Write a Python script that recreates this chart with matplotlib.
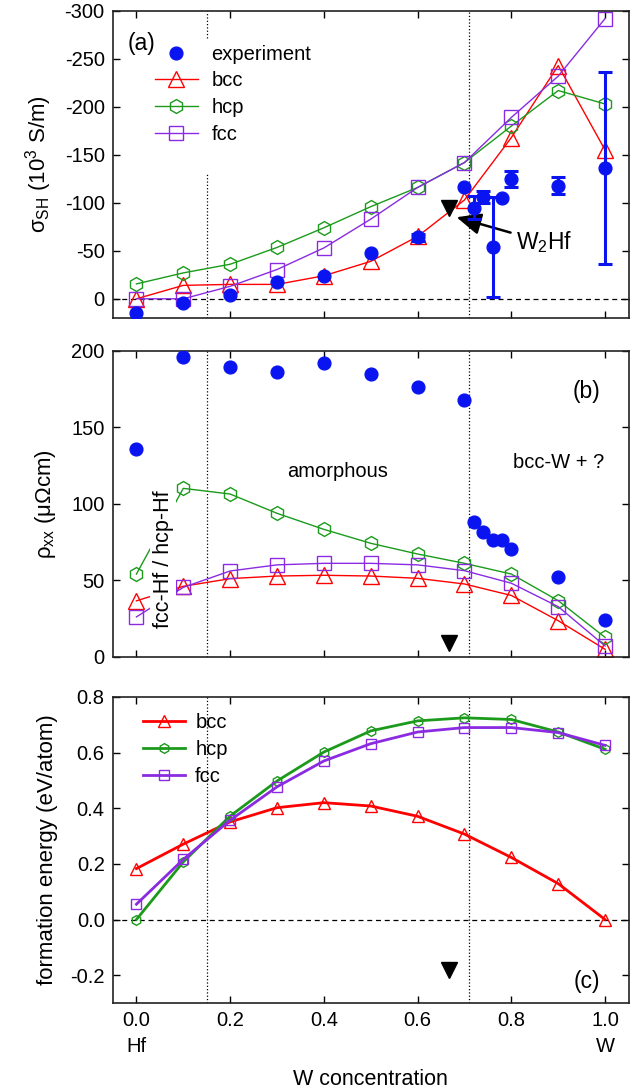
import numpy as np
import matplotlib
matplotlib.use("Agg")
import matplotlib.pyplot as plt
from matplotlib import font_manager, ticker

# ---- data -------------------------------------------------------------
x_calc = [0.0, 0.1, 0.2, 0.3, 0.4, 0.5, 0.6, 0.7, 0.8, 0.9, 1.0]
x_exp = [0.0, 0.1, 0.2, 0.3, 0.4, 0.5, 0.6, 0.7, 0.72, 0.74, 0.76, 0.78, 0.80, 0.9, 1.0]

# spin Hall conductivity (10^3 S/m)
sigma_exp = [15, 4, -3.5, -17, -24, -48, -64, -116, -95, -106, -54, -105, -125, -118, -136]
sigma_err = [0, 0, 0, 0, 0, 0, 4, 0, 12, 6, 52, 0, 8, 9, 100]
sigma_bcc = [0, -14, -15, -15, -24, -39, -65, -103, -168, -243, -155]
sigma_hcp = [-15.5, -27, -36, -53.5, -74, -96, -116, -142, -180, -217, -203]
sigma_fcc = [0, 0, -13, -30.5, -53, -83, -116, -142, -189, -232, -292]

# longitudinal resistivity (uOhm cm)
rho_exp = [136, 196, 189, 186, 192, 185, 176.5, 167.5, 88, 81.5, 76.5, 76, 70.5, 52, 24]
rho_bcc = [36.5, 46, 51, 52.7, 53.2, 52.7, 51.2, 47.5, 40, 23.5, 4.8]
rho_hcp = [54, 110, 106.3, 93.7, 83.2, 74.1, 67.1, 61, 54, 36.6, 12.6]
rho_fcc = [26, 45.3, 56, 60, 61, 61, 60, 56.2, 48, 32.7, 7]

# formation energy (eV/atom)
e_bcc = [0.183, 0.271, 0.351, 0.402, 0.420, 0.408, 0.371, 0.307, 0.223, 0.129, 0.0]
e_hcp = [0.0, 0.207, 0.372, 0.498, 0.602, 0.678, 0.714, 0.725, 0.719, 0.674, 0.612]
e_fcc = [0.055, 0.216, 0.357, 0.477, 0.570, 0.632, 0.674, 0.690, 0.690, 0.672, 0.626]

# W2Hf compound position and phase boundaries
x_w2hf = 2.0 / 3.0
w2hf_marks = [-95, 9, -0.18]
x_bounds = [0.15, 0.71]

# ---- style ------------------------------------------------------------
names = {f.name for f in font_manager.fontManager.ttflist}
base_font = "Liberation Sans" if "Liberation Sans" in names else "DejaVu Sans"

plt.rcParams["font.family"] = [base_font, "DejaVu Sans"]
plt.rcParams["axes.unicode_minus"] = False
plt.rcParams["mathtext.fontset"] = "custom"
plt.rcParams["mathtext.rm"] = base_font
plt.rcParams["mathtext.it"] = base_font + ":italic"

c_exp = "#0a14f0"
c_bcc = "#ff0000"
c_hcp = "#1c9a1c"
c_fcc = "#8a2be2"

fig = plt.figure(figsize=(6.42, 10.89), dpi=100)
L, R = 0.176, 0.979
ax_a = fig.add_axes([L, 0.708, R - L, 0.282])
ax_b = fig.add_axes([L, 0.397, R - L, 0.281])
ax_c = fig.add_axes([L, 0.079, R - L, 0.281])

for ax in (ax_a, ax_b, ax_c):
    ax.set_xlim(-0.05, 1.05)
    ax.set_xticks([0.0, 0.2, 0.4, 0.6, 0.8, 1.0])
    ax.tick_params(direction="in", top=True, right=True, length=5, width=1,
                   labelsize=14.5, pad=6)
    for s in ax.spines.values():
        s.set_linewidth(1.2)
        s.set_color("#222222")

for ax in (ax_a, ax_b):
    ax.tick_params(labelbottom=False)

mk = dict(markerfacecolor="none", markeredgewidth=1.0)

# ---- (a) spin Hall conductivity --------------------------------------
ax_a.set_ylim(20, -300)
ax_a.set_yticks([0, -50, -100, -150, -200, -250, -300])
ax_a.axhline(0, color="black", lw=0.9, ls=(0, (4, 3)), zorder=1)
ax_a.axvline(x_bounds[0], ymin=0.0, ymax=0.472, color="black", lw=0.9, ls=":", zorder=1)
ax_a.axvline(x_bounds[0], ymin=0.912, ymax=1.0, color="black", lw=0.9, ls=":", zorder=1)
ax_a.axvline(x_bounds[1], color="black", lw=0.9, ls=":", zorder=1)

h_bcc, = ax_a.plot(x_calc, sigma_bcc, color=c_bcc, lw=1.0, marker="^", ms=11,
                   markeredgecolor=c_bcc, label="bcc", **mk)
h_hcp, = ax_a.plot(x_calc, sigma_hcp, color=c_hcp, lw=1.0, marker="h", ms=10,
                   markeredgecolor=c_hcp, label="hcp", **mk)
h_fcc, = ax_a.plot(x_calc, sigma_fcc, color=c_fcc, lw=1.0, marker="s", ms=9.5,
                   markeredgecolor=c_fcc, label="fcc", **mk)

xe = np.array(x_exp)
se = np.array(sigma_exp, dtype=float)
ee = np.array(sigma_err, dtype=float)
has_err = ee > 0
ax_a.errorbar(xe[has_err], se[has_err], yerr=ee[has_err], fmt="none",
              ecolor=c_exp, elinewidth=2.2, capsize=5, capthick=2.2, zorder=4)
h_exp, = ax_a.plot(x_exp, sigma_exp, ls="none", marker="o", ms=9.2,
                   color=c_exp, label="experiment", zorder=5)

ax_a.plot([x_w2hf], [w2hf_marks[0]], marker="v", ms=11, color="black", ls="none", zorder=6)
ax_a.annotate("W$_2$Hf", xy=(0.683, -85), xytext=(0.81, -59),
              fontsize=16.5, va="center", ha="left",
              arrowprops=dict(arrowstyle="-|>,head_length=0.9,head_width=0.4",
                              color="black", lw=1.8, shrinkA=2, shrinkB=0))

ax_a.text(0.01, -266, "(a)", fontsize=16.5, ha="center", va="center", zorder=8)
leg = ax_a.legend(handles=[h_exp, h_bcc, h_hcp, h_fcc], loc="upper left",
                  bbox_to_anchor=(0.078, 0.896), fontsize=14.5, frameon=True,
                  framealpha=1, facecolor="white", edgecolor="none",
                  handlelength=2.1, handletextpad=0.7, labelspacing=0.38,
                  borderpad=0.1, borderaxespad=0)
leg.set_zorder(3)
ax_a.set_ylabel("σ$_{\\rm SH}$ (10$^3$ S/m)", fontsize=16)
ax_a.yaxis.set_label_coords(-0.115, 0.5)

# ---- (b) resistivity --------------------------------------------------
ax_b.set_ylim(0, 200)
ax_b.set_yticks([0, 50, 100, 150, 200])
for xb in x_bounds:
    ax_b.axvline(xb, color="black", lw=0.9, ls=":", zorder=1)

ax_b.plot(x_calc, rho_bcc, color=c_bcc, lw=1.0, marker="^", ms=11,
          markeredgecolor=c_bcc, **mk)
ax_b.plot(x_calc, rho_hcp, color=c_hcp, lw=1.0, marker="h", ms=10,
          markeredgecolor=c_hcp, **mk)
ax_b.plot(x_calc, rho_fcc, color=c_fcc, lw=1.0, marker="s", ms=9.5,
          markeredgecolor=c_fcc, **mk)
ax_b.plot(x_exp, rho_exp, ls="none", marker="o", ms=9.2, color=c_exp, zorder=5)
ax_b.plot([x_w2hf], [w2hf_marks[1]], marker="v", ms=11, color="black", ls="none", zorder=6)

ax_b.text(0.057, 64, "fcc-Hf / hcp-Hf", rotation=90, fontsize=15.5,
          ha="center", va="center", zorder=4,
          bbox=dict(facecolor="white", edgecolor="none", pad=1.5))
ax_b.text(0.43, 121, "amorphous", fontsize=14.5, ha="center", va="center")
ax_b.text(0.90, 127, "bcc-W + ?", fontsize=14.5, ha="center", va="center")
ax_b.text(0.961, 173, "(b)", fontsize=16.5, ha="center", va="center")
ax_b.set_ylabel("ρ$_{\\rm xx}$ (μΩcm)", fontsize=16)
ax_b.yaxis.set_label_coords(-0.107, 0.5)

# ---- (c) formation energy --------------------------------------------
ax_c.set_ylim(-0.3, 0.8)
ax_c.set_yticks([-0.2, 0.0, 0.2, 0.4, 0.6, 0.8])
ax_c.yaxis.set_major_formatter(ticker.FormatStrFormatter("%.1f"))
ax_c.axhline(0, color="black", lw=0.9, ls=(0, (4, 3)), zorder=1)
for xb in x_bounds:
    ax_c.axvline(xb, color="black", lw=0.9, ls=":", zorder=1)

c_bcc_h, = ax_c.plot(x_calc, e_bcc, color=c_bcc, lw=2.0, marker="^", ms=8.5,
                     markeredgecolor=c_bcc, label="bcc", **mk)
c_hcp_h, = ax_c.plot(x_calc, e_hcp, color=c_hcp, lw=2.0, marker="h", ms=7,
                     markeredgecolor=c_hcp, label="hcp", **mk)
c_fcc_h, = ax_c.plot(x_calc, e_fcc, color=c_fcc, lw=2.0, marker="s", ms=7.5,
                     markeredgecolor=c_fcc, label="fcc", **mk)
ax_c.plot([x_w2hf], [w2hf_marks[2]], marker="v", ms=11, color="black", ls="none", zorder=6)
ax_c.legend(handles=[c_bcc_h, c_hcp_h, c_fcc_h], loc="upper left",
            bbox_to_anchor=(0.054, 0.954), fontsize=14.5, frameon=False,
            handlelength=2.1, handletextpad=0.5, labelspacing=0.4,
            borderpad=0.1, borderaxespad=0)
ax_c.text(0.961, -0.222, "(c)", fontsize=16.5, ha="center", va="center")
ax_c.set_ylabel("formation energy (eV/atom)", fontsize=16)
ax_c.yaxis.set_label_coords(-0.107, 0.5)

ax_c.set_xticklabels(["0.0\nHf", "0.2", "0.4", "0.6", "0.8", "1.0\nW"])
for lab in ax_c.get_xticklabels():
    lab.set_linespacing(1.45)
ax_c.set_xlabel("W concentration", fontsize=15.5, labelpad=9)

fig.savefig("out.png", dpi=100)
